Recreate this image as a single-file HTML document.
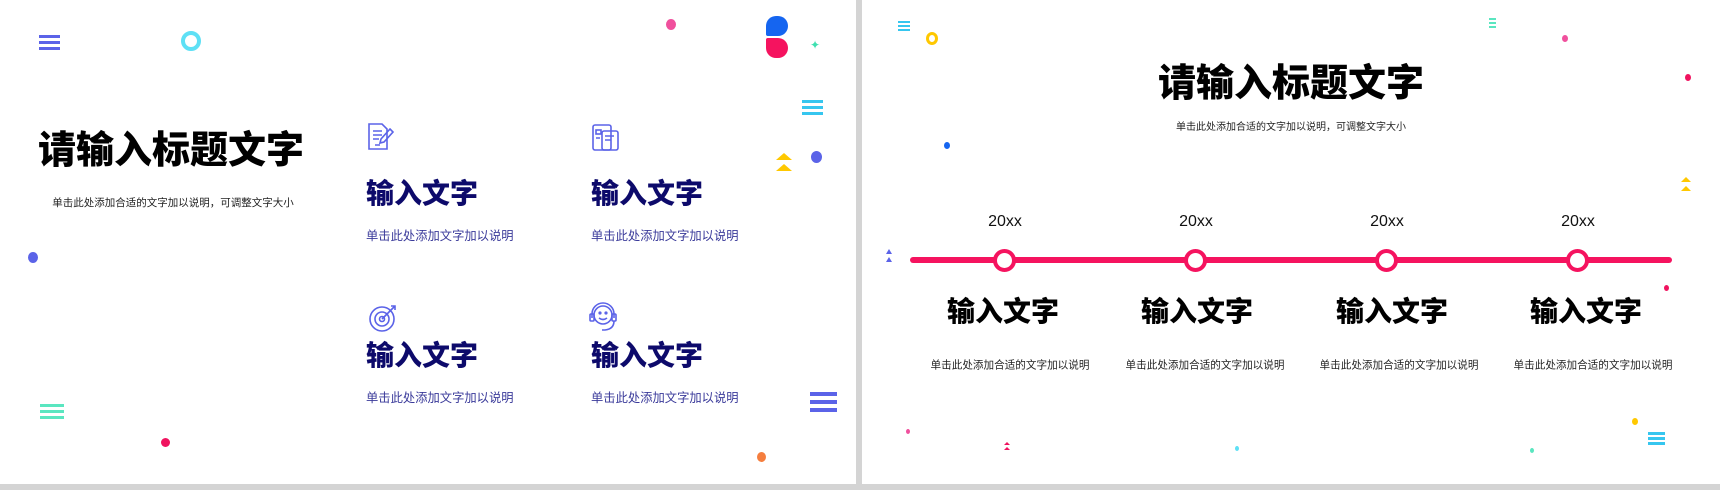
<!DOCTYPE html>
<html><head><meta charset="utf-8"><style>
*{margin:0;padding:0;box-sizing:border-box}
body{width:1720px;height:490px;background:#d4d4d4;position:relative;overflow:hidden;font-family:"Liberation Sans","Noto Sans CJK SC",sans-serif}
.p{position:absolute;background:#fff;top:0;height:484px}
.a{position:absolute}
.t{position:absolute;white-space:nowrap;transform:translate(-50%,-50%);line-height:1}
.l{position:absolute;white-space:nowrap;line-height:1;transform:translateY(-50%)}
.dot{position:absolute;border-radius:50%}
.hb{position:absolute}
.hb i{display:block;height:3px;margin-bottom:3px}
b{font-weight:900}
</style></head><body>
<div class="p" style="left:0;width:856px"></div>
<div class="p" style="left:862px;width:858px"></div>

<div class="hb" style="left:39px;top:35px;width:21px"><i style="background:#5b63e8"></i><i style="background:#5b63e8"></i><i style="background:#5b63e8"></i></div>
<div class="dot" style="left:181px;top:31px;width:20px;height:20px;border:4px solid #5ee0f5"></div>
<div class="dot" style="left:666px;top:19px;width:10px;height:11px;background:#f0509d"></div>
<div class="a" style="left:766px;top:16px;width:22px;height:20px;background:#1565f0;border-radius:11px 11px 11px 2px"></div>
<div class="a" style="left:766px;top:38px;width:22px;height:20px;background:#f5135f;border-radius:2px 11px 11px 11px"></div>
<div class="a" style="left:810px;top:38px;color:#3fe0b0;font-size:12px">✦</div>
<div class="hb" style="left:802px;top:100px;width:21px"><i style="background:#36c6ef"></i><i style="background:#36c6ef"></i><i style="background:#36c6ef"></i></div>
<div class="a" style="left:776px;top:153px;width:0;height:0;border-left:8px solid transparent;border-right:8px solid transparent;border-bottom:7px solid #ffc800"></div>
<div class="a" style="left:776px;top:164px;width:0;height:0;border-left:8px solid transparent;border-right:8px solid transparent;border-bottom:7px solid #ffc800"></div>
<div class="dot" style="left:811px;top:151px;width:11px;height:12px;background:#5b63e8"></div>
<div class="dot" style="left:28px;top:252px;width:10px;height:11px;background:#5b63e8"></div>
<div class="hb" style="left:40px;top:404px;width:24px"><i style="background:#5ae6c0"></i><i style="background:#5ae6c0"></i><i style="background:#5ae6c0"></i></div>
<div class="dot" style="left:161px;top:438px;width:9px;height:9px;background:#f0135f"></div>
<div class="dot" style="left:757px;top:452px;width:9px;height:10px;background:#f57e3e"></div>
<div class="hb" style="left:810px;top:392px;width:27px"><i style="background:#5b63e8;height:4px;margin-bottom:4px"></i><i style="background:#5b63e8;height:4px;margin-bottom:4px"></i><i style="background:#5b63e8;height:4px"></i></div>

<div class="l" style="left:38px;top:151px;font-size:38px;font-weight:900;color:#000">请输入标题文字</div>
<div class="t" style="left:173px;top:203px;font-size:10.5px;color:#222">单击此处添加合适的文字加以说明，可调整文字大小</div>

<svg class="a" style="left:366px;top:123px" width="30" height="28" viewBox="0 0 30 28" fill="none" stroke="#5b63e8" stroke-width="1.6"><path d="M3 1h13l5 5v20H3z"/><path d="M7 8h9M7 12h9M7 16h6M9 22h5"/><path d="M24 6l3 3-9 10-4 1 1-4z"/></svg>
<svg class="a" style="left:592px;top:124px" width="28" height="28" viewBox="0 0 28 28" fill="none" stroke="#5b63e8" stroke-width="1.6"><rect x="1" y="1" width="18" height="25" rx="2"/><rect x="10" y="7" width="16" height="19" rx="2"/><rect x="4" y="6" width="5" height="4"/><path d="M13 12h9M13 16h6M4 14h4"/></svg>
<svg class="a" style="left:369px;top:303px" width="30" height="30" viewBox="0 0 30 30" fill="none" stroke="#5b63e8" stroke-width="1.6"><circle cx="13" cy="16" r="12"/><circle cx="13" cy="16" r="7"/><circle cx="13" cy="16" r="2.5"/><path d="M13 16L26 3M22 3h4v4"/></svg>
<svg class="a" style="left:589px;top:302px" width="28" height="32" viewBox="0 0 28 32" fill="none" stroke="#5b63e8" stroke-width="1.6"><circle cx="14" cy="13" r="9"/><path d="M3 16v-4a11 11 0 0 1 22 0v4"/><rect x="1" y="12" width="4" height="7" rx="1"/><rect x="23" y="12" width="4" height="7" rx="1"/><path d="M10 16q4 3 8 0"/><circle cx="11" cy="11" r=".8"/><circle cx="17" cy="11" r=".8"/><path d="M25 19q0 8-9 9h-3"/></svg>

<div class="l" style="left:366px;top:194px;font-size:28px;font-weight:900;color:#0d0a6b">输入文字</div>
<div class="l" style="left:366px;top:236px;font-size:12.3px;color:#3a3a9a">单击此处添加文字加以说明</div>
<div class="l" style="left:591px;top:194px;font-size:28px;font-weight:900;color:#0d0a6b">输入文字</div>
<div class="l" style="left:591px;top:236px;font-size:12.3px;color:#3a3a9a">单击此处添加文字加以说明</div>
<div class="l" style="left:366px;top:356px;font-size:28px;font-weight:900;color:#0d0a6b">输入文字</div>
<div class="l" style="left:366px;top:398px;font-size:12.3px;color:#3a3a9a">单击此处添加文字加以说明</div>
<div class="l" style="left:591px;top:356px;font-size:28px;font-weight:900;color:#0d0a6b">输入文字</div>
<div class="l" style="left:591px;top:398px;font-size:12.3px;color:#3a3a9a">单击此处添加文字加以说明</div>

<div class="hb" style="left:898px;top:21px;width:12px"><i style="background:#36c6ef;height:2px;margin-bottom:2px"></i><i style="background:#36c6ef;height:2px;margin-bottom:2px"></i><i style="background:#36c6ef;height:2px"></i></div>
<div class="dot" style="left:926px;top:32px;width:12px;height:13px;border:3px solid #ffc800"></div>
<div class="hb" style="left:1489px;top:18px;width:7px"><i style="background:#5ae6c0;height:2px;margin-bottom:2px"></i><i style="background:#5ae6c0;height:2px;margin-bottom:2px"></i><i style="background:#5ae6c0;height:2px"></i></div>
<div class="dot" style="left:1562px;top:35px;width:6px;height:7px;background:#f0509d"></div>
<div class="dot" style="left:1685px;top:74px;width:6px;height:7px;background:#f0135f"></div>
<div class="dot" style="left:944px;top:142px;width:6px;height:7px;background:#1565f0"></div>
<div class="a" style="left:1681px;top:177px;border-left:5px solid transparent;border-right:5px solid transparent;border-bottom:5px solid #ffc800"></div>
<div class="a" style="left:1681px;top:186px;border-left:5px solid transparent;border-right:5px solid transparent;border-bottom:5px solid #ffc800"></div>
<div class="a" style="left:886px;top:249px;border-left:3px solid transparent;border-right:3px solid transparent;border-bottom:5px solid #5b63e8"></div>
<div class="a" style="left:886px;top:257px;border-left:3px solid transparent;border-right:3px solid transparent;border-bottom:5px solid #5b63e8"></div>
<div class="dot" style="left:1664px;top:285px;width:5px;height:6px;background:#f0135f"></div>
<div class="dot" style="left:906px;top:429px;width:4px;height:5px;background:#f0509d"></div>
<div class="a" style="left:1004px;top:442px;border-left:3px solid transparent;border-right:3px solid transparent;border-bottom:3px solid #f0135f"></div>
<div class="a" style="left:1004px;top:447px;border-left:3px solid transparent;border-right:3px solid transparent;border-bottom:3px solid #f0135f"></div>
<div class="dot" style="left:1235px;top:446px;width:4px;height:5px;background:#5ee0f5"></div>
<div class="dot" style="left:1530px;top:448px;width:4px;height:5px;background:#5ae6c0"></div>
<div class="dot" style="left:1632px;top:418px;width:6px;height:7px;background:#ffc800"></div>
<div class="hb" style="left:1648px;top:432px;width:17px"><i style="background:#36c6ef;height:3px;margin-bottom:2px"></i><i style="background:#36c6ef;height:3px;margin-bottom:2px"></i><i style="background:#36c6ef;height:3px"></i></div>

<div class="t" style="left:1291px;top:84px;font-size:38px;font-weight:900;color:#000">请输入标题文字</div>
<div class="t" style="left:1291px;top:128px;font-size:10px;color:#222">单击此处添加合适的文字加以说明，可调整文字大小</div>

<div class="a" style="left:910px;top:257px;width:762px;height:6px;background:#f5135f;border-radius:3px"></div>
<div class="dot" style="left:993px;top:249px;width:23px;height:23px;border:4px solid #f5135f;background:#fff"></div>
<div class="dot" style="left:1184px;top:249px;width:23px;height:23px;border:4px solid #f5135f;background:#fff"></div>
<div class="dot" style="left:1375px;top:249px;width:23px;height:23px;border:4px solid #f5135f;background:#fff"></div>
<div class="dot" style="left:1566px;top:249px;width:23px;height:23px;border:4px solid #f5135f;background:#fff"></div>

<div class="t" style="left:1005px;top:222px;font-size:16px;color:#111">20xx</div>
<div class="t" style="left:1196px;top:222px;font-size:16px;color:#111">20xx</div>
<div class="t" style="left:1387px;top:222px;font-size:16px;color:#111">20xx</div>
<div class="t" style="left:1578px;top:222px;font-size:16px;color:#111">20xx</div>

<div class="t" style="left:1003px;top:312px;font-size:28px;font-weight:900;color:#000">输入文字</div>
<div class="t" style="left:1197px;top:312px;font-size:28px;font-weight:900;color:#000">输入文字</div>
<div class="t" style="left:1392px;top:312px;font-size:28px;font-weight:900;color:#000">输入文字</div>
<div class="t" style="left:1586px;top:312px;font-size:28px;font-weight:900;color:#000">输入文字</div>

<div class="t" style="left:1010px;top:366px;font-size:10.6px;color:#222">单击此处添加合适的文字加以说明</div>
<div class="t" style="left:1205px;top:366px;font-size:10.6px;color:#222">单击此处添加合适的文字加以说明</div>
<div class="t" style="left:1399px;top:366px;font-size:10.6px;color:#222">单击此处添加合适的文字加以说明</div>
<div class="t" style="left:1593px;top:366px;font-size:10.6px;color:#222">单击此处添加合适的文字加以说明</div>
</body></html>
